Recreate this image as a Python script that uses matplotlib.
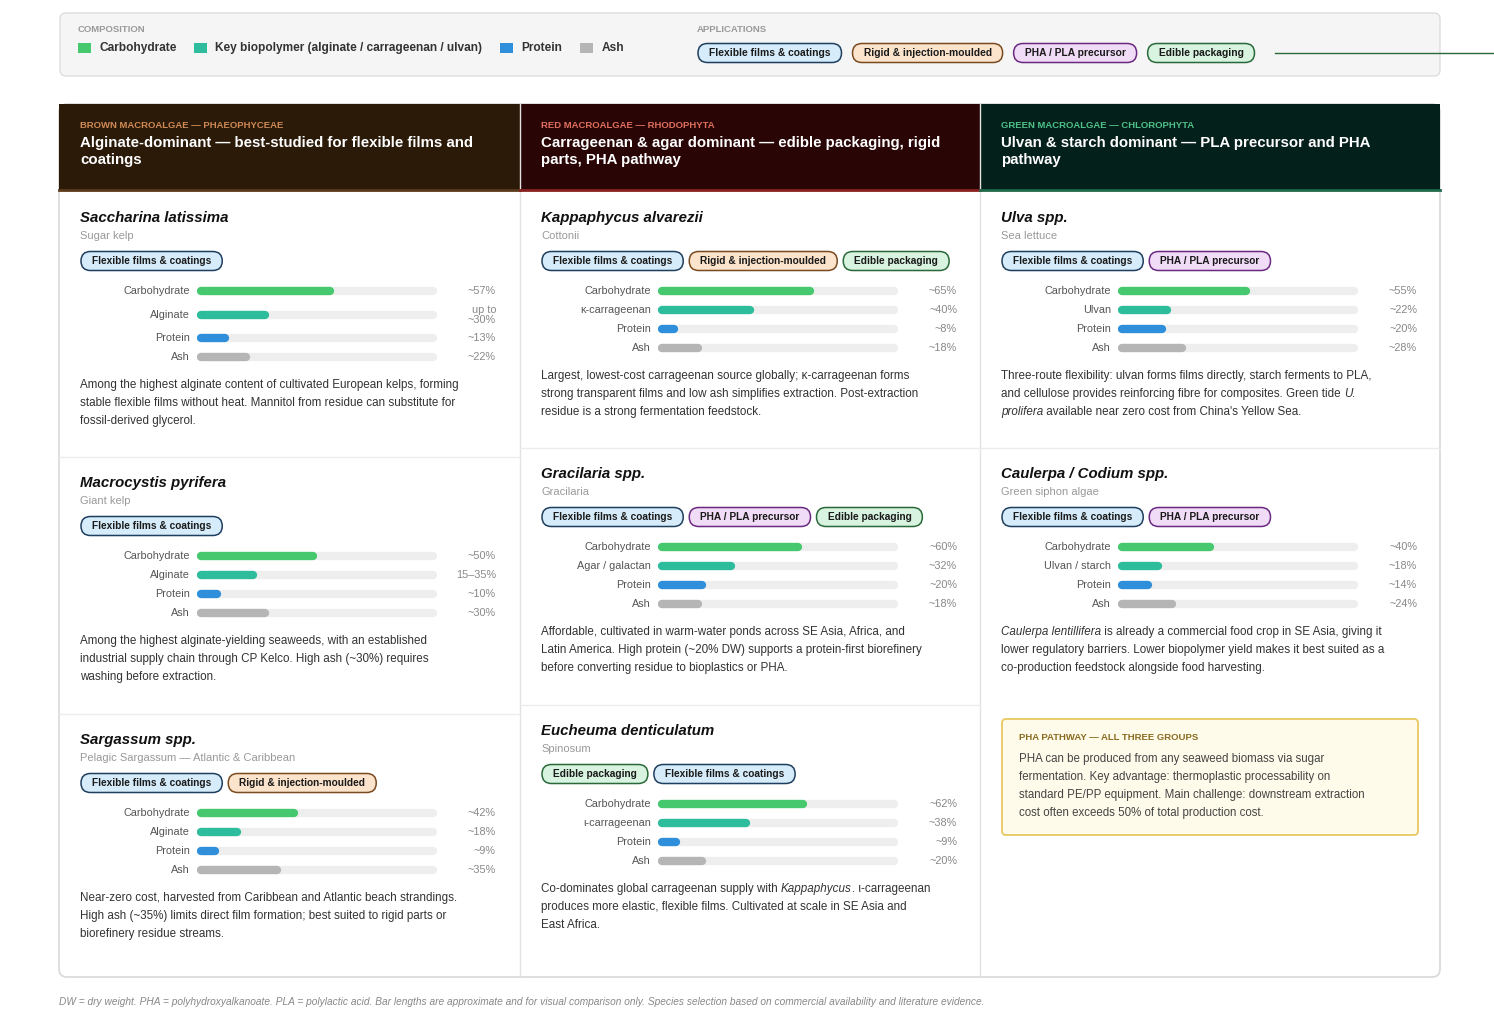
import matplotlib
matplotlib.use("Agg")
import matplotlib.pyplot as plt
from matplotlib.patches import FancyBboxPatch, Rectangle

plt.rcParams['font.family'] = ['Liberation Sans', 'DejaVu Sans']

W, H = 1494, 1023

# ---- data ----
comp_names = ["Carbohydrate", "Key biopolymer (alginate / carrageenan / ulvan)", "Protein", "Ash"]
comp_colors = ["#46c96e", "#2dbd9c", "#2f8fdb", "#b5b5b5"]

apps = {"F": "Flexible films & coatings", "R": "Rigid & injection-moulded",
        "P": "PHA / PLA precursor", "E": "Edible packaging"}
app_style = {"F": ("#d6ecfa", "#1f3f5f"), "R": ("#fbe3cc", "#7a4a20"),
             "P": ("#f1dcf7", "#6a2a80"), "E": ("#d8f3df", "#2a6a3a")}

groups = [
    ("BROWN MACROALGAE — PHAEOPHYCEAE",
     "Alginate-dominant — best-studied for flexible films and\ncoatings",
     "#2b1a08", "#d08a55", "#5a3a1a"),
    ("RED MACROALGAE — RHODOPHYTA",
     "Carrageenan & agar dominant — edible packaging, rigid\nparts, PHA pathway",
     "#2a0506", "#e0705e", "#8a2020"),
    ("GREEN MACROALGAE — CHLOROPHYTA",
     "Ulvan & starch dominant — PLA precursor and PHA\npathway",
     "#04201a", "#4fc28a", "#1f6a4a"),
]

species = [
    [
        ("Saccharina latissima", "Sugar kelp", ["F"],
         ["Carbohydrate", "Alginate", "Protein", "Ash"], [57, 30, 13, 22],
         ["~57%", "up to\n~30%", "~13%", "~22%"],
         [[("Among the highest alginate content of cultivated European kelps, forming", 0)],
          [("stable flexible films without heat. Mannitol from residue can substitute for", 0)],
          [("fossil-derived glycerol.", 0)]]),
        ("Macrocystis pyrifera", "Giant kelp", ["F"],
         ["Carbohydrate", "Alginate", "Protein", "Ash"], [50, 25, 10, 30],
         ["~50%", "15–35%", "~10%", "~30%"],
         [[("Among the highest alginate-yielding seaweeds, with an established", 0)],
          [("industrial supply chain through CP Kelco. High ash (~30%) requires", 0)],
          [("washing before extraction.", 0)]]),
        ("Sargassum spp.", "Pelagic Sargassum — Atlantic & Caribbean", ["F", "R"],
         ["Carbohydrate", "Alginate", "Protein", "Ash"], [42, 18, 9, 35],
         ["~42%", "~18%", "~9%", "~35%"],
         [[("Near-zero cost, harvested from Caribbean and Atlantic beach strandings.", 0)],
          [("High ash (~35%) limits direct film formation; best suited to rigid parts or", 0)],
          [("biorefinery residue streams.", 0)]]),
    ],
    [
        ("Kappaphycus alvarezii", "Cottonii", ["F", "R", "E"],
         ["Carbohydrate", "κ-carrageenan", "Protein", "Ash"], [65, 40, 8, 18],
         ["~65%", "~40%", "~8%", "~18%"],
         [[("Largest, lowest-cost carrageenan source globally; κ-carrageenan forms", 0)],
          [("strong transparent films and low ash simplifies extraction. Post-extraction", 0)],
          [("residue is a strong fermentation feedstock.", 0)]]),
        ("Gracilaria spp.", "Gracilaria", ["F", "P", "E"],
         ["Carbohydrate", "Agar / galactan", "Protein", "Ash"], [60, 32, 20, 18],
         ["~60%", "~32%", "~20%", "~18%"],
         [[("Affordable, cultivated in warm-water ponds across SE Asia, Africa, and", 0)],
          [("Latin America. High protein (~20% DW) supports a protein-first biorefinery", 0)],
          [("before converting residue to bioplastics or PHA.", 0)]]),
        ("Eucheuma denticulatum", "Spinosum", ["E", "F"],
         ["Carbohydrate", "ι-carrageenan", "Protein", "Ash"], [62, 38, 9, 20],
         ["~62%", "~38%", "~9%", "~20%"],
         [[("Co-dominates global carrageenan supply with ", 0), ("Kappaphycus", 1), (". ι-carrageenan", 0)],
          [("produces more elastic, flexible films. Cultivated at scale in SE Asia and", 0)],
          [("East Africa.", 0)]]),
    ],
    [
        ("Ulva spp.", "Sea lettuce", ["F", "P"],
         ["Carbohydrate", "Ulvan", "Protein", "Ash"], [55, 22, 20, 28],
         ["~55%", "~22%", "~20%", "~28%"],
         [[("Three-route flexibility: ulvan forms films directly, starch ferments to PLA,", 0)],
          [("and cellulose provides reinforcing fibre for composites. Green tide ", 0), ("U.", 1)],
          [("prolifera", 1), (" available near zero cost from China's Yellow Sea.", 0)]]),
        ("Caulerpa / Codium spp.", "Green siphon algae", ["F", "P"],
         ["Carbohydrate", "Ulvan / starch", "Protein", "Ash"], [40, 18, 14, 24],
         ["~40%", "~18%", "~14%", "~24%"],
         [[("Caulerpa lentillifera", 1), (" is already a commercial food crop in SE Asia, giving it", 0)],
          [("lower regulatory barriers. Lower biopolymer yield makes it best suited as a", 0)],
          [("co-production feedstock alongside food harvesting.", 0)]]),
    ],
]

pha_title = "PHA PATHWAY — ALL THREE GROUPS"
pha_lines = ["PHA can be produced from any seaweed biomass via sugar",
             "fermentation. Key advantage: thermoplastic processability on",
             "standard PE/PP equipment. Main challenge: downstream extraction",
             "cost often exceeds 50% of total production cost."]

footer = ("DW = dry weight. PHA = polyhydroxyalkanoate. PLA = polylactic acid. Bar lengths are "
          "approximate and for visual comparison only. Species selection based on commercial "
          "availability and literature evidence.")

# ---- layout ----
fig = plt.figure(figsize=(W / 100, H / 100), dpi=100)
ax = fig.add_axes([0, 0, 1, 1])
ax.set_xlim(0, W)
ax.set_ylim(H, 0)
ax.axis("off")
renderer = fig.canvas.get_renderer()


def tw(t):
    return t.get_window_extent(renderer).width


def pill(x, y, key, size=7.3):
    fc, ec = app_style[key]
    t = ax.text(x + 11, y, apps[key], fontsize=size, fontweight="bold", color="#1a1a1a",
                va="center", ha="left", zorder=5)
    w = tw(t) + 22
    ax.add_patch(FancyBboxPatch((x, y - 9.5), w, 19, boxstyle="round,pad=0,rounding_size=9.5",
                                fc=fc, ec=ec, lw=1.1, zorder=4))
    return w


def rich(x, y, segs, size=8.4, color="#333333"):
    for s, it in segs:
        t = ax.text(x, y, s, fontsize=size, color=color, va="center", ha="left",
                    style="italic" if it else "normal")
        x += tw(t)


# top legend box
ax.add_patch(FancyBboxPatch((60, 13), 1380, 63, boxstyle="round,pad=0,rounding_size=6",
                            fc="#f5f5f5", ec="#dddddd", lw=1))
ax.text(78, 29, "COMPOSITION", fontsize=6.8, fontweight="bold", color="#999999", va="center")
x = 78
for n, c in zip(comp_names, comp_colors):
    ax.add_patch(Rectangle((x, 43), 13, 10, fc=c, ec="none"))
    t = ax.text(x + 21, 48, n, fontsize=8.6, fontweight="bold", color="#333333", va="center")
    x += 21 + tw(t) + 18
ax.text(697, 29, "APPLICATIONS", fontsize=6.8, fontweight="bold", color="#999999", va="center")
x = 698
for k in ["F", "R", "P", "E"]:
    x += pill(x, 53, k, size=7.4) + 11
ax.plot([1275, W], [53, 53], color="#2a6a3a", lw=1, zorder=6)

# main panel
ax.add_patch(FancyBboxPatch((59, 104), 1381, 873, boxstyle="round,pad=0,rounding_size=8",
                            fc="white", ec="#d8d8d8", lw=1.2))
cols = [59, 520, 980]
colw = [461, 460, 460]
for i, (sub, title, bg, sc, lc) in enumerate(groups):
    cx = cols[i]
    ax.add_patch(Rectangle((cx, 104), colw[i], 86, fc=bg, ec="none"))
    ax.plot([cx, cx + colw[i]], [190, 190], color=lc, lw=2)
    ax.text(cx + 21, 125, sub, fontsize=6.8, fontweight="bold", color=sc, va="center")
    ax.text(cx + 21, 136, title, fontsize=10.8, fontweight="bold", color="white", va="top",
            linespacing=1.3)
for cx in [520, 980]:
    ax.plot([cx, cx], [104, 977], color="#e2e2e2", lw=1, zorder=1)

row_tops = [[192, 457, 714], [192, 448, 705], [192, 448, 705]]
for i, col in enumerate(species):
    cx = cols[i]
    for j, (name, common, tags, labels, vals, vtxt, desc) in enumerate(col):
        top = row_tops[i][j]
        if j > 0:
            ax.plot([cx, cx + colw[i]], [top, top], color="#ececec", lw=1)
        ax.text(cx + 21, top + 26, name, fontsize=10.8, fontweight="bold", style="italic",
                color="#111111", va="center")
        ax.text(cx + 21, top + 44, common, fontsize=8.0, color="#999999", va="center")
        x = cx + 22
        for k in tags:
            x += pill(x, top + 69, k) + 6
        wrapped = any("\n" in v for v in vtxt)
        ys = [top + 99, top + 123, top + 146, top + 165] if wrapped else \
             [top + 99, top + 118, top + 137, top + 156]
        # bar axes per card, 0-100 % scale
        y0, y1 = ys[0] - 8, ys[-1] + 8
        bx = fig.add_axes([(cx + 138) / W, 1 - y1 / H, 240 / W, (y1 - y0) / H])
        bx.set_xlim(0, 100)
        bx.set_ylim(y1, y0)
        bx.axis("off")
        for yy, v, c in zip(ys, vals, comp_colors):
            bx.plot([1.5, 98.5], [yy, yy], color="#eeeeee", lw=6, solid_capstyle="round")
            bx.plot([1.5, v - 1.5], [yy, yy], color=c, lw=6, solid_capstyle="round")
        for yy, lab, vt in zip(ys, labels, vtxt):
            ax.text(cx + 131, yy, lab, fontsize=7.8, color="#555555", ha="right", va="center")
            ax.text(cx + 437, yy, vt, fontsize=7.8, color="#888888", ha="right", va="center",
                    linespacing=0.95)
        dy = top + (193 if wrapped else 184)
        for k, segs in enumerate(desc):
            rich(cx + 21, dy + 18 * k, segs)

# PHA box
ax.add_patch(FancyBboxPatch((1002, 719), 416, 116, boxstyle="round,pad=0,rounding_size=4",
                            fc="#fffbea", ec="#e8c860", lw=1.3))
ax.text(1019, 738, pha_title, fontsize=6.8, fontweight="bold", color="#8a6a20", va="center")
for k, ln in enumerate(pha_lines):
    ax.text(1019, 759 + 18 * k, ln, fontsize=8.3, color="#444444", va="center")

ax.text(59, 1002, footer, fontsize=7.3, style="italic", color="#888888", va="center")

fig.savefig("out.png", dpi=100)
